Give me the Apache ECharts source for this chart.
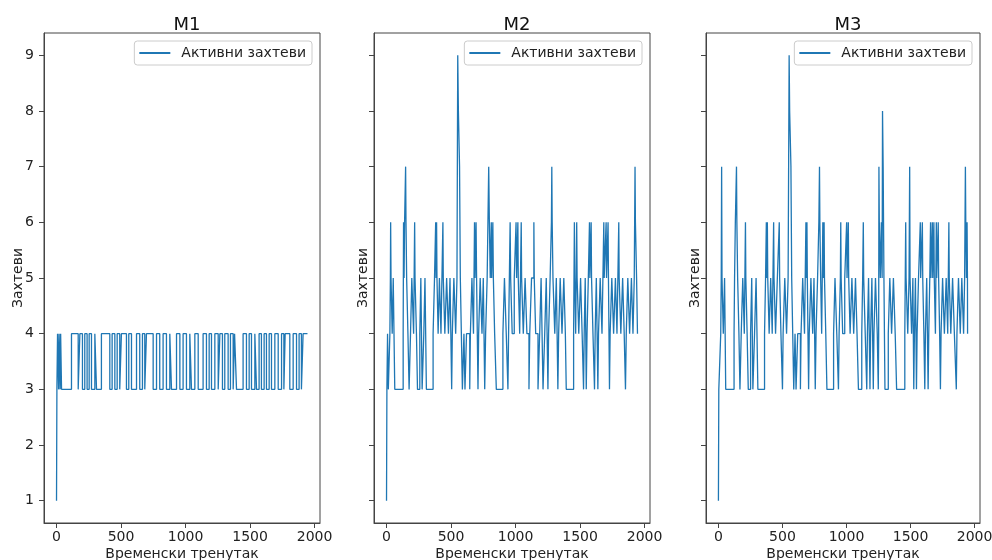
<!DOCTYPE html>
<html>
<head>
<meta charset="utf-8">
<script src="https://cdn.jsdelivr.net/npm/echarts@6/dist/echarts.min.js"></script>
<style>html,body{margin:0;padding:0;background:#fff}#c{width:992px;height:560px}</style>
</head>
<body>
<div id="c"></div>
<script>
// ---- data (time step, active requests) at each change point ----
const titles = ['M1', 'M2', 'M3'];
const seriesName = 'Активни захтеви';
const xName = 'Временски тренутак';
const yName = 'Захтеви';
const xTicks = [0, 500, 1000, 1500, 2000];
const yTicks = [1, 2, 3, 4, 5, 6, 7, 8, 9];

const m1 = [[0,1],[3,3],[8,4],[16,3],[20,4],[28,3],[32,4],[39,3],[116,4],[168,3],[181,4],[201,3],[219,4],[237,3],[253,4],[271,3],[297,4],[310,3],[348,4],[413,3],[431,4],[452,3],[470,4],[490,3],[503,4],[542,3],[560,4],[581,3],[620,4],[645,3],[666,4],[684,3],[697,4],[749,3],[775,4],[800,3],[826,4],[852,3],[878,4],[891,3],[930,4],[956,3],[981,4],[1007,3],[1033,4],[1046,3],[1072,4],[1098,3],[1136,4],[1162,3],[1183,4],[1201,3],[1227,4],[1253,3],[1266,4],[1286,3],[1304,4],[1330,3],[1348,4],[1369,3],[1380,4],[1395,3],[1446,4],[1472,3],[1493,4],[1511,3],[1537,4],[1550,3],[1570,4],[1588,3],[1609,4],[1627,3],[1648,4],[1666,3],[1692,4],[1718,3],[1744,4],[1762,3],[1772,4],[1808,3],[1834,4],[1860,3],[1880,4],[1898,3],[1911,4],[1945,4]];

const m2 = [[0,1],[3,3],[8,4],[14,3],[26,4],[30,5],[32,6],[35,5],[44,4],[52,5],[58,4],[64,3],[129,4],[132,6],[136,5],[140,6],[148,7],[151,6],[156,5],[166,4],[175,3],[186,4],[196,5],[210,4],[218,6],[221,5],[232,4],[240,3],[258,4],[266,5],[276,3],[289,4],[298,5],[309,3],[361,4],[372,5],[381,6],[384,5],[388,6],[391,5],[400,4],[410,5],[422,4],[437,6],[440,5],[452,4],[466,5],[480,4],[492,5],[505,3],[510,4],[522,5],[536,4],[546,5],[552,9],[557,8],[566,7],[572,5],[580,4],[588,3],[600,4],[608,3],[620,4],[645,3],[650,4],[662,5],[674,4],[682,6],[686,5],[694,6],[698,5],[709,3],[714,4],[726,5],[740,4],[750,5],[761,3],[768,4],[780,5],[792,7],[797,6],[804,5],[812,6],[815,5],[824,6],[828,5],[838,4],[851,3],[902,4],[914,5],[928,4],[941,3],[946,4],[958,6],[962,5],[974,4],[990,5],[1004,6],[1008,5],[1018,6],[1021,5],[1032,4],[1044,6],[1047,5],[1060,4],[1074,5],[1088,4],[1104,3],[1110,4],[1124,5],[1142,6],[1145,5],[1156,4],[1174,3],[1187,4],[1198,5],[1213,3],[1226,4],[1238,5],[1251,3],[1256,4],[1268,5],[1278,6],[1281,7],[1284,6],[1290,5],[1304,4],[1316,5],[1328,3],[1334,4],[1346,5],[1360,4],[1374,5],[1386,4],[1393,3],[1450,4],[1456,6],[1459,5],[1466,4],[1474,6],[1477,5],[1490,4],[1504,5],[1516,4],[1527,3],[1532,4],[1540,5],[1548,3],[1554,4],[1564,5],[1573,6],[1576,5],[1586,6],[1589,5],[1600,4],[1612,3],[1617,4],[1626,5],[1638,3],[1643,4],[1656,5],[1670,4],[1684,6],[1687,5],[1702,6],[1705,5],[1717,6],[1720,5],[1728,3],[1733,4],[1746,5],[1760,4],[1774,5],[1786,4],[1800,6],[1803,5],[1816,4],[1830,5],[1842,4],[1852,3],[1858,4],[1870,5],[1884,4],[1898,5],[1910,4],[1920,5],[1926,7],[1929,6],[1938,5],[1945,4]];

const m3 = [[0,1],[3,3],[18,4],[22,5],[25,7],[28,5],[38,4],[48,5],[57,3],[122,4],[126,5],[132,6],[141,7],[144,6],[150,5],[160,4],[168,3],[178,4],[190,5],[202,4],[211,6],[214,5],[224,4],[233,3],[251,4],[260,5],[269,3],[282,4],[294,5],[308,3],[360,4],[368,5],[374,6],[377,5],[382,6],[385,5],[396,4],[408,5],[420,4],[431,6],[434,5],[446,4],[460,5],[475,6],[478,5],[488,4],[500,3],[505,4],[518,5],[532,4],[544,5],[552,9],[556,8],[566,7],[572,5],[580,4],[588,3],[598,4],[606,3],[619,4],[640,3],[645,4],[658,5],[672,4],[683,6],[686,5],[691,6],[694,5],[704,3],[709,4],[722,5],[736,4],[746,5],[756,3],[762,4],[774,5],[784,6],[789,7],[792,6],[798,5],[806,4],[815,6],[818,5],[825,6],[828,5],[838,4],[847,3],[899,4],[910,5],[924,4],[937,3],[942,4],[952,5],[955,6],[958,5],[970,4],[986,5],[1001,6],[1004,5],[1014,6],[1017,5],[1028,4],[1042,5],[1056,4],[1070,5],[1082,4],[1093,3],[1119,4],[1126,5],[1131,6],[1134,5],[1146,4],[1158,3],[1163,4],[1172,5],[1183,3],[1188,4],[1198,5],[1209,3],[1214,4],[1226,5],[1240,4],[1248,3],[1251,4],[1253,7],[1256,6],[1264,5],[1272,6],[1278,5],[1281,8],[1286,7],[1292,5],[1300,3],[1326,4],[1338,5],[1352,4],[1366,5],[1380,4],[1391,3],[1455,4],[1462,6],[1465,5],[1478,4],[1488,5],[1493,7],[1496,5],[1508,4],[1518,5],[1525,3],[1530,4],[1538,5],[1546,3],[1551,4],[1562,5],[1576,6],[1579,5],[1592,6],[1595,5],[1604,4],[1611,3],[1616,4],[1626,5],[1637,3],[1642,4],[1650,5],[1656,6],[1659,5],[1670,6],[1673,5],[1682,6],[1685,5],[1694,4],[1701,6],[1704,5],[1716,6],[1719,5],[1727,4],[1733,3],[1738,4],[1750,5],[1764,4],[1778,5],[1790,4],[1799,6],[1802,5],[1814,4],[1828,5],[1842,4],[1857,3],[1862,4],[1874,5],[1888,4],[1900,5],[1914,4],[1922,5],[1928,7],[1931,6],[1936,5],[1941,6],[1944,5],[1945,4]];

const panels = [m1, m2, m3];

// expand change points into a stepped polyline (value holds until next change)
function stepped(d) {
  const out = [];
  for (let i = 0; i < d.length; i++) {
    if (i > 0) out.push([d[i][0], d[i - 1][1]]);
    out.push([d[i][0], d[i][1]]);
  }
  return out;
}

// ---- layout ----
const FONT = 'DejaVu Sans';
const gridLeft = [44, 374, 706];
const gridW = [276, 276, 274];
const GTOP = 33, GH = 490;
const yNameGap = [19, 4, 4];
const LINE = '#1f77b4';
const AX = '#444';

const chart = echarts.init(document.getElementById('c'), null, {renderer: 'canvas'});
const option = {
  animation: false,
  backgroundColor: '#fff',
  title: titles.map((t, i) => ({
    text: t, left: gridLeft[i] + gridW[i] / 2, top: 11, textAlign: 'center',
    textStyle: {fontFamily: FONT, fontSize: 18, fontWeight: 'normal', color: '#111'}
  })),
  legend: titles.map((t, i) => ({
    data: [{name: seriesName, icon: 'rect'}], right: 992 - (gridLeft[i] + gridW[i]) + 8, top: 41,
    orient: 'horizontal', itemWidth: 31, itemHeight: 2,
    backgroundColor: '#fff', borderColor: '#ccc', borderWidth: 1, borderRadius: 3,
    padding: [5, 6, 5, 5],
    textStyle: {fontFamily: FONT, fontSize: 14, color: '#222', padding: [0, 0, 0, 6]}
  })),
  grid: titles.map((t, i) => ({
    left: gridLeft[i], top: GTOP, width: gridW[i], height: GH,
    outerBoundsMode: 'none', containLabel: false,
    show: true, borderColor: AX, borderWidth: 1, backgroundColor: 'transparent'
  })),
  xAxis: titles.map((t, i) => ({
    type: 'value', gridIndex: i, min: -97, max: 2042,
    name: xName, nameLocation: 'middle', nameGap: 24, nameMoveOverlap: false,
    nameTextStyle: {fontFamily: FONT, fontSize: 14, color: '#222'},
    axisLine: {show: true, onZero: false, lineStyle: {color: AX}},
    axisTick: {show: true, length: 5, lineStyle: {color: AX}, customValues: xTicks},
    axisLabel: {show: true, margin: 7, fontFamily: FONT, fontSize: 14, color: '#222',
      customValues: xTicks, formatter: v => String(v)},
    splitLine: {show: false}
  })),
  yAxis: titles.map((t, i) => ({
    type: 'value', gridIndex: i, min: 0.6, max: 9.4,
    name: yName, nameLocation: 'middle', nameGap: yNameGap[i], nameMoveOverlap: false,
    nameTextStyle: {fontFamily: FONT, fontSize: 14, color: '#222'},
    axisLine: {show: true, onZero: false, lineStyle: {color: AX}},
    axisTick: {show: true, length: 5, lineStyle: {color: AX}, customValues: yTicks},
    axisLabel: {show: i === 0, margin: 10, fontFamily: FONT, fontSize: 14, color: '#222',
      customValues: yTicks, formatter: v => String(v)},
    splitLine: {show: false}
  })),
  series: panels.map((d, i) => ({
    name: seriesName, type: 'line', xAxisIndex: i, yAxisIndex: i,
    data: stepped(d), symbol: 'none', showSymbol: false,
    lineStyle: {color: LINE, width: 1.3}, itemStyle: {color: LINE},
    silent: true
  }))
};
chart.setOption(option);
</script>
</body>
</html>
